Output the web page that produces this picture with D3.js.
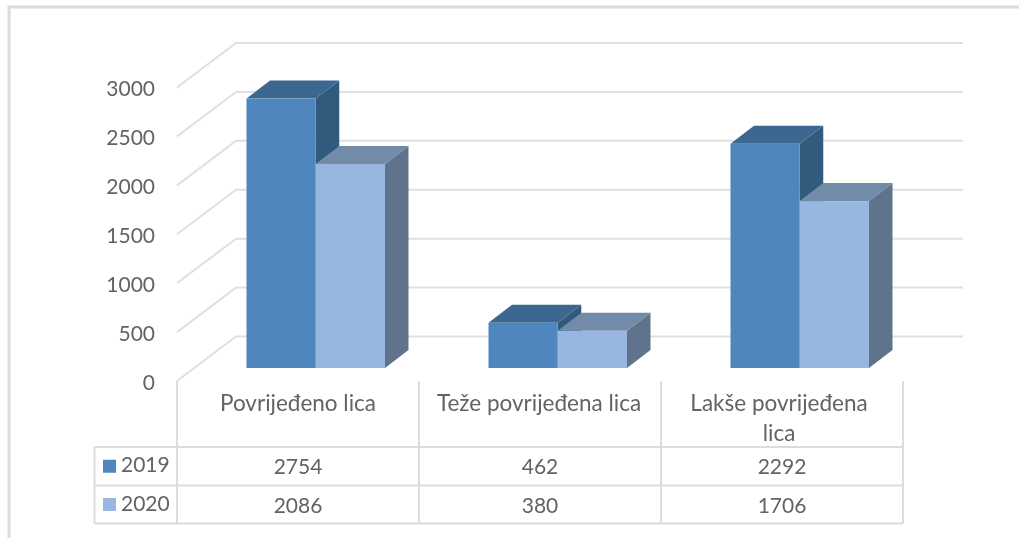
<!DOCTYPE html>
<html lang="en">
<head>
  <meta charset="UTF-8">
  <title>Povrijeđena lica 2019 / 2020</title>
  <style>
    html, body { margin: 0; padding: 0; background: #fff; }
    svg { display: block; filter: blur(0.45px); }
    text { font-family: Lato, "Open Sans", sans-serif; fill: #636363; }
    .grid { stroke: #e0e0e0; stroke-width: 2px; fill: none; }
    .tbl { stroke: #dcdcdc; stroke-width: 2px; fill: none; }
    .axis .domain, .axis line { display: none; }
    .axis text { font-size: 21px; }
  </style>
</head>
<body>
  <div class="chart"></div>
  <script src="https://cdnjs.cloudflare.com/ajax/libs/d3/7.8.5/d3.min.js"></script>
  <script>
    const categories = ['Povrijeđeno lica', 'Teže povrijeđena lica', 'Lakše povrijeđena lica'];
    const categoryLines = [['Povrijeđeno lica'], ['Teže povrijeđena lica'], ['Lakše povrijeđena', 'lica']];
    const seriesNames = ['2019', '2020'];
    const values2019 = [2754, 462, 2292];
    const values2020 = [2086, 380, 1706];
    const yTicks = [0, 500, 1000, 1500, 2000, 2500, 3000];

    const seriesValues = [values2019, values2020];
    const frontColors = ['#4f86bd', '#98b7e0'];
    const topColors = ['#3c6790', '#728ba9'];
    const sideColors = ['#315a7d', '#5f748c'];

    const svg = d3.select('.chart')
      .append('svg')
      .attr('width', 1019)
      .attr('height', 538);

    // outer frame, only top and left are in the picture
    svg.append('path')
      .attr('d', 'M1019,7 H9 V538')
      .attr('fill', 'none')
      .attr('stroke', '#dcdcdc')
      .attr('stroke-width', 3);

    // front plane of the axis, the back wall is shifted by wall offset
    const y = d3.scaleLinear().domain([0, 3000]).range([381, 87.5]);
    const wallDx = 59, wallDy = -44.5;
    const wallRight = 963;

    const x = d3.scaleBand().domain(categories).range([177, 903]);
    const xInner = d3.scaleBand().domain(seriesNames).range([69.5, 208]);
    const barBase = 368, depthX = 23.5, depthY = -18;

    const gridG = svg.append('g');
    yTicks.forEach(function (t) {
      gridG.append('path')
        .attr('class', 'grid')
        .attr('d', d3.line()([
          [177, y(t)],
          [177 + wallDx, y(t) + wallDy],
          [wallRight, y(t) + wallDy]
        ]));
    });

    svg.append('g')
      .attr('class', 'axis')
      .attr('transform', 'translate(155,1.5)')
      .call(d3.axisLeft(y).tickValues(yTicks).tickSize(0).tickPadding(0).tickFormat(d3.format('d')));

    // bars: side and top faces first, then front. 2019 before 2020 so overlap is right
    seriesNames.forEach(function (name, s) {
      const g = svg.append('g').attr('class', 'series-' + name);
      const w = xInner.bandwidth();
      const h = d => y(0) - y(d);
      categories.forEach(function (cat, i) {
        const v = seriesValues[s][i];
        const x0 = x(cat) + xInner(name);
        const top = barBase - h(v);
        g.append('path')
          .attr('fill', sideColors[s])
          .attr('d', d3.line()([[x0 + w, top], [x0 + w + depthX, top + depthY], [x0 + w + depthX, barBase + depthY], [x0 + w, barBase]]) + 'Z');
        g.append('path')
          .attr('fill', topColors[s])
          .attr('d', d3.line()([[x0, top], [x0 + depthX, top + depthY], [x0 + w + depthX, top + depthY], [x0 + w, top]]) + 'Z');
        g.append('rect')
          .attr('x', x0)
          .attr('y', top)
          .attr('width', w)
          .attr('height', h(v))
          .attr('fill', frontColors[s]);
      });
    });

    // data table under the chart
    const rowY = [447, 485.5, 523.5];
    const tableLeft = 94.5;
    const tbl = svg.append('g');
    rowY.forEach(function (ry) {
      tbl.append('line').attr('class', 'tbl')
        .attr('x1', tableLeft).attr('x2', 903).attr('y1', ry).attr('y2', ry);
    });
    tbl.append('line').attr('class', 'tbl')
      .attr('x1', tableLeft).attr('x2', tableLeft).attr('y1', rowY[0]).attr('y2', rowY[2]);
    x.domain().concat(['end']).forEach(function (cat) {
      const vx = cat === 'end' ? 903 : x(cat);
      tbl.append('line').attr('class', 'tbl')
        .attr('x1', vx).attr('x2', vx).attr('y1', 381).attr('y2', rowY[2]);
    });

    categories.forEach(function (cat, i) {
      categoryLines[i].forEach(function (line, j) {
        tbl.append('text')
          .attr('x', x(cat) + x.bandwidth() / 2 - (i === 2 ? 3 : 0) - (i === 1 ? 1 : 0))
          .attr('y', 411 + j * 30)
          .attr('text-anchor', 'middle')
          .attr('font-size', 22.5)
          .text(line);
      });
    });

    seriesNames.forEach(function (name, s) {
      const cy = (rowY[s] + rowY[s + 1]) / 2;
      tbl.append('rect')
        .attr('x', 103).attr('y', cy - 6.5)
        .attr('width', 13).attr('height', 13)
        .attr('fill', frontColors[s]);
      tbl.append('text')
        .attr('x', 121).attr('y', cy + 6)
        .attr('font-size', 21)
        .text(name);
      categories.forEach(function (cat, i) {
        tbl.append('text')
          .attr('x', x(cat) + x.bandwidth() / 2)
          .attr('y', cy + 8)
          .attr('text-anchor', 'middle')
          .attr('font-size', 21)
          .text(seriesValues[s][i]);
      });
    });
  </script>
</body>
</html>
